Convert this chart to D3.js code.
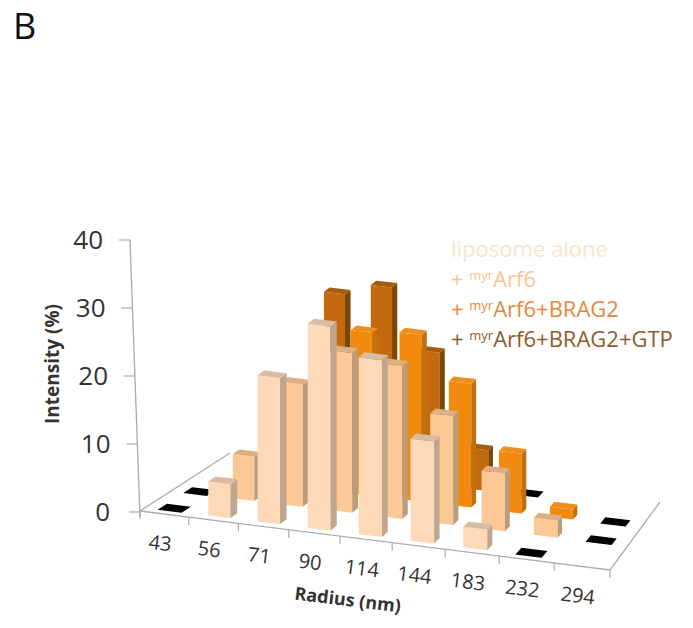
<!DOCTYPE html>
<html>
<head>
<meta charset="utf-8">
<title>Radius intensity</title>
<script src="https://d3js.org/d3.v7.min.js"></script>
<style>
    body { margin: 0; background: #fff; }
    text { font-family: "Open Sans", sans-serif; }
</style>
</head>
<body>
<svg width="693" height="628"></svg>
<script>
    // null = nothing drawn, 0 = flat black marker as in the original
    var radius = ["43", "56", "71", "90", "114", "144", "183", "232", "294"];
    var series = ["liposome alone", "Arf6", "Arf6+BRAG2", "Arf6+BRAG2+GTP"];
    var liposome = [0, 5, 21.5, 30, 26, 15, 3, 0, null];
    var arf6 = [0, 6.5, 18, 23.5, 22.5, 16, 8.5, 2.5, 0];
    var brag2 = [null, null, 15, 24, 24.5, 18.2, 8.8, 1.5, 0];
    var gtp = [null, null, 26.5, 28.3, 19.5, 6, 0, null, null];
    var rows = [liposome, arf6, brag2, gtp];
    var yTicks = [0, 10, 20, 30, 40];

    var faceColor = ["#fdd9b8", "#fbc896", "#f28a10", "#c26a08"];
    var sideColor = ["#bfa68e", "#bd9c7c", "#c06f0e", "#7d4605"];
    var topColor = ["#d9bca3", "#dcaf84", "#ef8f20", "#a85a08"];
    var legendColor = ["#fbe3cf", "#f9c598", "#e8873a", "#8f5a2c"];

    var svg = d3.select("svg");

    // floor corners on the page: front left, front right, back right, back left
    var corners = [[140, 511], [610, 570], [660, 502], [230, 453]];

    // perspective from the unit square to the floor
    function makeFloor(c) {
        var dx1 = c[1][0] - c[2][0], dx2 = c[3][0] - c[2][0], sx = c[0][0] - c[1][0] + c[2][0] - c[3][0];
        var dy1 = c[1][1] - c[2][1], dy2 = c[3][1] - c[2][1], sy = c[0][1] - c[1][1] + c[2][1] - c[3][1];
        var det = dx1 * dy2 - dx2 * dy1;
        var g = (sx * dy2 - dx2 * sy) / det;
        var h = (dx1 * sy - sx * dy1) / det;
        return function(u, v) {
            var w = g * u + h * v + 1;
            return [
                ((c[1][0] - c[0][0] + g * c[1][0]) * u + (c[3][0] - c[0][0] + h * c[3][0]) * v + c[0][0]) / w,
                ((c[1][1] - c[0][1] + g * c[1][1]) * u + (c[3][1] - c[0][1] + h * c[3][1]) * v + c[0][1]) / w
            ];
        };
    }
    var floor = makeFloor(corners);

    var u = d3.scaleBand().domain(radius).range([0, 1]).paddingInner(0.55).paddingOuter(0.3);
    var v = d3.scaleBand().domain(d3.range(4)).range([0, 1]).paddingInner(0.72).paddingOuter(0.2);
    var uTick = d3.scaleLinear().domain([0, radius.length]).range([0, 1]);

    var y = d3.scaleLinear().domain([0, 40]).range([512, 240]);
    var axisX = d3.scaleLinear().domain([0, 40]).range([140, 130]);

    // floor edges
    var line = d3.line();
    svg.append("path")
        .attr("d", line([corners[3], corners[0], corners[1], corners[2]]))
        .attr("fill", "none").attr("stroke", "#a9adb2").attr("stroke-width", 1.3);

    // y axis
    svg.append("line")
        .attr("x1", axisX(0)).attr("y1", y(0) + 5)
        .attr("x2", axisX(40)).attr("y2", y(40))
        .attr("stroke", "#a9a9a9").attr("stroke-width", 1.3);
    yTicks.forEach(function(t) {
        svg.append("line")
            .attr("x1", axisX(t) - 11).attr("y1", y(t))
            .attr("x2", axisX(t)).attr("y2", y(t))
            .attr("stroke", "#a9a9a9").attr("stroke-width", 1.2);
        svg.append("text")
            .attr("x", axisX(t) - 27 - (t == 0 ? 3 : 0)).attr("y", y(t) + 9)
            .attr("text-anchor", "end").attr("font-size", 26).attr("fill", "#333")
            .text(t);
    });

    // x ticks and labels
    d3.range(radius.length + 1).forEach(function(i) {
        var p = floor(uTick(i), 0);
        svg.append("line")
            .attr("x1", p[0]).attr("y1", p[1])
            .attr("x2", p[0]).attr("y2", p[1] + 8)
            .attr("stroke", "#a9adb2").attr("stroke-width", 1.2);
    });
    radius.forEach(function(r, i) {
        var p = floor(uTick(i + 0.5), 0);
        svg.append("text")
            .attr("transform", "translate(" + (p[0] - 5) + "," + (p[1] + 36) + ") rotate(7)")
            .attr("text-anchor", "middle").attr("font-size", 20).attr("fill", "#333")
            .text(r);
    });

    // bars, back row first, left to right
    d3.range(3, -1, -1).forEach(function(s) {
        rows[s].forEach(function(val, i) {
            if (val === null) return;
            var u0 = u(radius[i]), u1 = u0 + u.bandwidth();
            var v0 = v(s), v1 = v0 + v.bandwidth();
            var a = floor(u0, v0), b = floor(u1, v0), c = floor(u1, v1), d = floor(u0, v1);
            var h = y(0) - y(val);
            var up = function(p) { return [p[0], p[1] - h]; };
            var g = svg.append("g").attr("filter", "url(#soft)");
            if (val === 0) {
                g.append("path").attr("d", line([a, b, c, d]) + "Z")
                    .attr("fill", "#000").attr("stroke", "#000").attr("stroke-width", 1.5);
                return;
            }
            g.append("path").attr("d", line([a, b, up(b), up(a)]) + "Z").attr("fill", faceColor[s]);
            g.append("path").attr("d", line([b, c, up(c), up(b)]) + "Z").attr("fill", sideColor[s]);
            g.append("path").attr("d", line([up(a), up(b), up(c), up(d)]) + "Z").attr("fill", topColor[s]);
        });
    });

    svg.append("defs").append("filter").attr("id", "soft")
        .attr("x", "-20%").attr("y", "-20%").attr("width", "140%").attr("height", "140%")
        .append("feGaussianBlur").attr("stdDeviation", 0.5);

    // titles
    svg.append("text").attr("x", 13).attr("y", 39).attr("font-size", 36).attr("fill", "#111").text("B");

    svg.append("text")
        .attr("transform", "translate(59,364) rotate(-90)")
        .attr("text-anchor", "middle").attr("font-size", 19).attr("font-weight", "bold").attr("fill", "#333")
        .text("Intensity (%)");

    svg.append("text")
        .attr("transform", "translate(347,606) rotate(7)")
        .attr("text-anchor", "middle").attr("font-size", 18).attr("font-weight", "bold").attr("fill", "#333")
        .text("Radius (nm)");

    // legend
    var legendY = d3.scalePoint().domain(series).range([257, 347]);
    series.forEach(function(name, i) {
        var t = svg.append("text")
            .attr("x", 451).attr("y", legendY(name))
            .attr("font-size", 22).attr("fill", legendColor[i]);
        if (i == 0) {
            t.text(name);
        } else {
            t.append("tspan").text("+ ");
            t.append("tspan").attr("font-size", 13).attr("dy", -7).text("myr");
            t.append("tspan").attr("dy", 7).text(name);
        }
    });
</script>
</body>
</html>
